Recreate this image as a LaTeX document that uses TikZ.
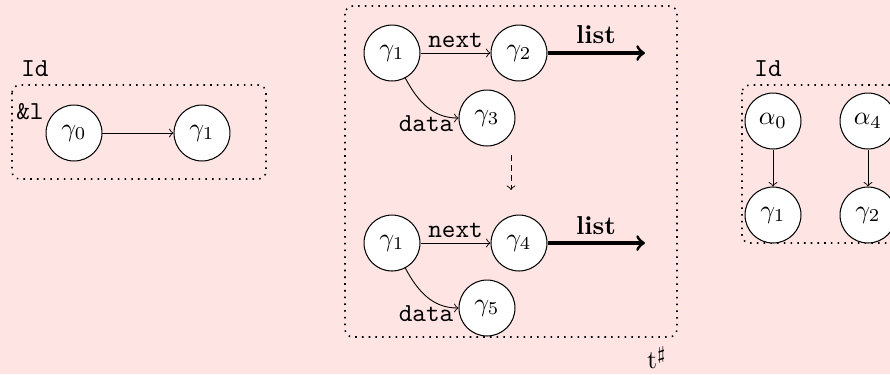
\documentclass[tikz,border=0pt]{standalone}
\definecolor{bg}{RGB}{255,228,228}
\begin{document}
\begin{tikzpicture}[x=0.386pt,y=-0.386pt,
 st/.style={circle,draw,fill=white,minimum size=21.6pt,inner sep=0pt},
 grp/.style={draw,dotted,semithick,rounded corners=3pt},
 lnk/.style={->,line width=0.35pt},
 lst/.style={->,line width=1.2pt},
 lbl/.style={inner sep=0pt}]
\fill[bg] (0,0) rectangle (890,374);
\useasboundingbox (0,0) rectangle (890,374);
\clip (0,0) rectangle (890,374);
% left group
\draw[grp] (12,85) rectangle (266,179);
\node[lbl] (idl) at (35,69) {\texttt{Id}};
\node[lbl] (refl) at (30,112) {\texttt{\&l}};
\node[st] (g0) at (74,133) {$\gamma_0$};
\node[st] (g1a) at (202,133) {$\gamma_1$};
\draw[lnk] (g0) -- (g1a);
% middle group
\draw[grp] (345,6) rectangle (677,337);
\node[st] (m1) at (392,53) {$\gamma_1$};
\node[st] (m2) at (519,53) {$\gamma_2$};
\node[st] (m3) at (487,118) {$\gamma_3$};
\coordinate (e1) at (645,53);
\draw[lnk] (m1) -- node[lbl,above=2pt] (nx1) {\texttt{next}} (m2);
\draw[lst] (m2) -- (e1);
\node[lbl] (ls1) at (596,35) {\textbf{list}};
\draw[lnk] (m1) to[out=-62,in=180] (m3);
\node[lbl] (d1) at (426,124) {\texttt{data}};
\coordinate (da) at (511,155);
\coordinate (db) at (511,190);
\draw[->,line width=0.35pt,dash pattern=on 2.3pt off 1.6pt] (da) -- (db);
\node[st] (n1) at (392,243) {$\gamma_1$};
\node[st] (n4) at (519,243) {$\gamma_4$};
\node[st] (n5) at (487,308) {$\gamma_5$};
\coordinate (e2) at (645,243);
\draw[lnk] (n1) -- node[lbl,above=2pt] (nx2) {\texttt{next}} (n4);
\draw[lst] (n4) -- (e2);
\node[lbl] (ls2) at (596,226) {\textbf{list}};
\draw[lnk] (n1) to[out=-62,in=180] (n5);
\node[lbl] (d2) at (426,314) {\texttt{data}};
\node[lbl] (ts) at (657,358) {t$^\sharp$};
% right group
\draw[grp] (742,85) rectangle (960,243);
\node[lbl] (idr) at (768,69) {\texttt{Id}};
\node[st] (a0) at (773,121) {$\alpha_0$};
\node[st] (a4) at (868,121) {$\alpha_4$};
\node[st] (r1) at (773,215) {$\gamma_1$};
\node[st] (r2) at (868,215) {$\gamma_2$};
\draw[lnk] (a0) -- (r1);
\draw[lnk] (a4) -- (r2);
\end{tikzpicture}
\end{document}
